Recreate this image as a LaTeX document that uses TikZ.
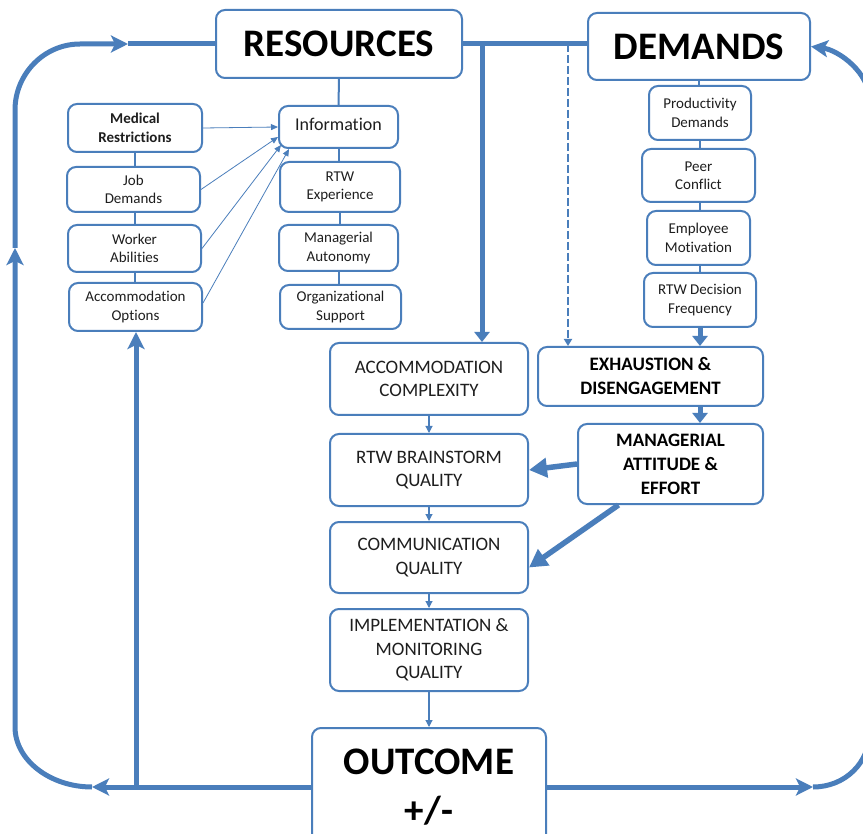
\documentclass[tikz,border=0pt]{standalone}
\usepackage{fontspec}
\setmainfont{Carlito}[Ligatures={NoCommon}]
\usetikzlibrary{arrows.meta}
\definecolor{lb}{RGB}{74,126,187}
\definecolor{txt}{RGB}{30,30,30}
\begin{document}
\begin{tikzpicture}[x=1pt,y=-1pt,
  box/.style={draw=lb, line width=2pt, rounded corners=9pt, fill=white, align=center, inner sep=0pt, text=txt},
  sm/.style={box, font=\fontsize{15}{18.5}\selectfont},
  mid/.style={box, font=\fontsize{19}{23.5}\selectfont},
  midb/.style={box, font=\fontsize{19}{24}\selectfont\bfseries, text=black},
  big/.style={box, font=\fontsize{39}{49}\selectfont\bfseries, text=black},
  link/.style={draw=lb, line width=2pt},
  thinar/.style={draw=lb, line width=0.8pt, -{Triangle[length=7pt,width=6pt]}},
  thinm/.style={draw=lb, line width=1.1pt, -{Triangle[length=7pt,width=7pt]}},
  thk/.style={draw=lb, line width=5pt},
  thkar/.style={thk, -{Triangle[length=10pt,width=15pt]}},
  thkbig/.style={draw=lb, line width=5.5pt, -{Triangle[length=18pt,width=19pt]}},
  loopl/.style={draw=lb, line width=5pt},
  looparr/.style={loopl, -{Stealth[length=17pt,width=17pt,inset=4pt]}},
  dashar/.style={draw=lb, line width=2.5pt, dash pattern=on 8pt off 3pt, -{Triangle[length=7pt,width=8pt]}}
]
\useasboundingbox (0,0) rectangle (863,834);
\fill[white] (0,0) rectangle (863,834);
\clip (0,0) rectangle (863,834);

% top-level nodes
\node[big, minimum width=246pt, minimum height=68pt] (res) at (339,44) {RESOURCES};
\node[big, minimum width=222pt, minimum height=67pt] (dem) at (699,46.5) {DEMANDS};

% resources left column
\node[sm, minimum width=134pt, minimum height=48pt] (med) at (135,128) {\textbf{Medical}\\\textbf{Restrictions}};
\node[sm, minimum width=133pt, minimum height=45pt] (job) at (133.5,189.5) {Job\\Demands};
\node[sm, minimum width=133pt, minimum height=47pt] (wrk) at (134.5,248.5) {Worker\\Abilities};
\node[sm, minimum width=133pt, minimum height=48pt] (aop) at (135.5,307) {Accommodation\\Options};

% resources right column
\node[box, font=\fontsize{18}{22}\selectfont, minimum width=119pt, minimum height=42pt, text height=12pt, text depth=4pt] (inf) at (338.5,127) {Information};
\node[sm, minimum width=120pt, minimum height=50pt] (rtwe) at (340,187) {RTW\\Experience};
\node[sm, minimum width=119pt, minimum height=46pt] (mau) at (338.5,248) {Managerial\\Autonomy};
\node[sm, minimum width=121pt, minimum height=44pt] (org) at (340.5,307) {Organizational\\Support};

% demands column
\node[sm, minimum width=102pt, minimum height=54pt] (prod) at (700,113) {Productivity\\Demands};
\node[sm, minimum width=113pt, minimum height=53pt] (peer) at (698.5,175.5) {Peer\\Conflict};
\node[sm, minimum width=103pt, minimum height=54pt] (emp) at (698.5,238) {Employee\\Motivation};
\node[sm, minimum width=112pt, minimum height=54pt] (rtwd) at (700,300) {RTW Decision\\Frequency};

% middle column
\node[mid, minimum width=198pt, minimum height=72pt] (acc) at (429,379) {ACCOMMODATION\\COMPLEXITY};
\node[mid, minimum width=198pt, minimum height=72pt] (brn) at (429,470) {RTW BRAINSTORM\\QUALITY};
\node[mid, minimum width=198pt, minimum height=71pt] (com) at (429,557.5) {COMMUNICATION\\QUALITY};
\node[mid, minimum width=198pt, minimum height=82pt] (imp) at (429,650) {IMPLEMENTATION \&\\MONITORING\\QUALITY};
\node[big, minimum width=234pt, minimum height=118pt] (out) at (429,787) {OUTCOME\\+/-};

% right middle
\node[midb, minimum width=225pt, minimum height=59pt] (exh) at (650.5,376.5) {EXHAUSTION \&\\DISENGAGEMENT};
\node[midb, minimum width=185pt, minimum height=80pt] (man) at (670.5,464) {MANAGERIAL\\ATTITUDE \&\\EFFORT};

% plain links
\draw[link] (res.south) -- (inf.north);
\draw[link] (inf.south) -- (inf.south |- rtwe.north);
\draw[link] (rtwe.south) -- (rtwe.south |- mau.north);
\draw[link] (mau.south) -- (mau.south |- org.north);
\draw[link] (med.south) -- (med.south |- job.north);
\draw[link] (med.south |- job.south) -- (med.south |- wrk.north);
\draw[link] (med.south |- wrk.south) -- (med.south |- aop.north);
\draw[link] (dem.south) -- (dem.south |- prod.north);
\draw[link] (prod.south) -- (prod.south |- peer.north);
\draw[link] (prod.south |- peer.south) -- (prod.south |- emp.north);
\draw[link] (prod.south |- emp.south) -- (prod.south |- rtwd.north);

% thin arrows into Information
\draw[thinar] (med.east) -- (inf.west);
\draw[thinar] (job.east) -- ([yshift=-10pt]inf.west);
\draw[thinar] (wrk.east) -- ([xshift=3pt,yshift=4pt]inf.south west);
\draw[thinar] ([yshift=4pt]aop.east) -- ([xshift=11pt]inf.south west);

% middle column chain
\draw[thinm] (acc.south) -- (brn.north);
\draw[thinm] (brn.south) -- (com.north);
\draw[thinm] (com.south) -- (imp.north);
\draw[thinm] (imp.south) -- (out.north);

% resources-demands bar and drops
\draw[thk] (res.east) -- (res.east -| dem.west);
\coordinate (j1) at (482,44);
\coordinate (j2) at (568,44);
\draw[thkar] (j1) -- (j1 |- acc.north);
\draw[dashar] (j2) -- (j2 |- exh.north);

% demands chain to exhaustion and managerial
\draw[thkar] (rtwd.south) -- (rtwd.south |- exh.north);
\draw[thkar] (exh.south -| rtwd.south) -- (man.north -| rtwd.south);
\draw[thkbig] (man.west) -- (brn.east);
\draw[thkbig] ([xshift=-52pt]man.south) -- ([yshift=-10pt]com.east);

% left loop
\coordinate (bl) at (92,787);
\coordinate (lu) at (15,248);
\coordinate (tl) at (128,44);
\coordinate (bv) at (136,787);
\draw[looparr] (out.west) -- (bl);
\draw[looparr] (bl) .. controls (50,787) and (15,760) .. (15,727) -- (lu);
\draw[looparr] (lu) -- (15,110) .. controls (15,74) and (44,44) .. (80,44) -- (tl);
\draw[loopl] (tl) -- (res.west);
\draw[looparr] (bv) -- (bv |- aop.south);

% right loop
\coordinate (br) at (813,787);
\draw[looparr] (out.east) -- (br);
\draw[looparr] (br) .. controls (845,787) and (870,763) .. (870,730) -- (870,102) .. controls (870,72) and (838,50) .. (dem.east);
\end{tikzpicture}
\end{document}
